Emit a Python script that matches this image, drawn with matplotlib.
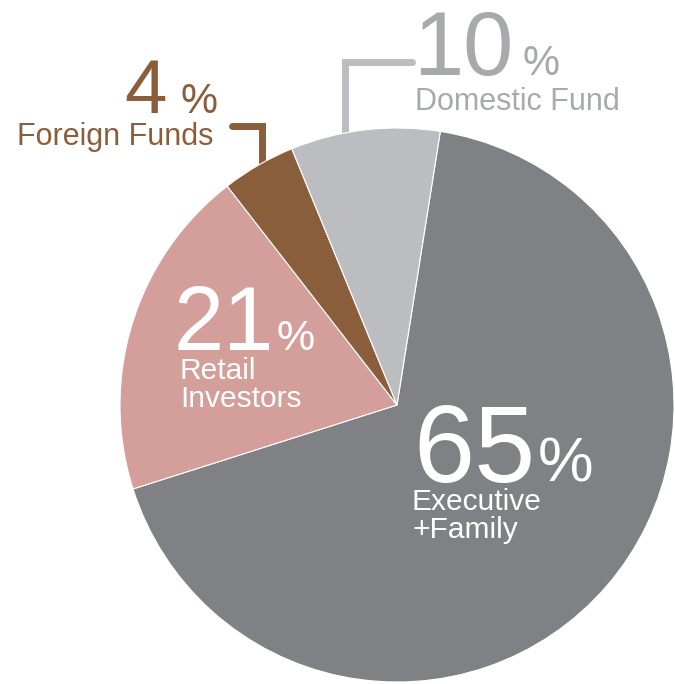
import matplotlib
matplotlib.use('Agg')
import matplotlib.pyplot as plt

# --- data ---
groups = ['Executive\n+Family', 'Retail\nInvestors', 'Foreign Funds', 'Domestic Fund']
share_labels = [65, 21, 4, 10]          # numbers printed on the chart
wedge_sizes = [67.6, 19.4, 4.3, 8.7]    # wedge spans as drawn in the picture
colors = ['#808184', '#d49f9b', '#8b5e3b', '#bcbdc0']

W, H = 675, 684
FONT = 'Liberation Sans'


def py(y):
    # pixel row (top-down) -> data y (bottom-up)
    return H - y


fig = plt.figure(figsize=(W / 100, H / 100), dpi=100)
ax = fig.add_axes([0, 0, 1, 1])

ax.pie(wedge_sizes, colors=colors, startangle=81, counterclock=False,
       center=(397, py(405)), radius=277, frame=False,
       wedgeprops=dict(edgecolor='white', linewidth=0.8, zorder=2))

# leader lines (behind the pie)
ax.plot([412, 345, 345], [py(62), py(62), py(160)], color='#bcbdc0', lw=5,
        solid_capstyle='round', solid_joinstyle='miter', zorder=1)
ax.plot([232, 262, 262], [py(126), py(126), py(190)], color='#8b5e3b', lw=5,
        solid_capstyle='round', solid_joinstyle='miter', zorder=1)


def label(x, y, num, big, pct_dx, pct_size, name, name_y, name_dx, color, size=21.5):
    # name_y = baseline of the last line of the name
    ax.text(x, py(y), str(num), fontsize=big, color=color, family=FONT,
            ha='left', va='baseline', zorder=5)
    ax.text(x + pct_dx, py(y), '%', fontsize=pct_size, color=color, family=FONT,
            ha='left', va='baseline', zorder=5)
    ax.text(x + name_dx, py(name_y), name, fontsize=size, color=color, family=FONT,
            ha='left', va='baseline', linespacing=1.0, zorder=5)


label(413, 482, share_labels[0], 79, 125, 45, groups[0], 538, -1, 'white')
label(173, 350, share_labels[1], 65, 104, 31, groups[1], 407, 7, 'white')
label(124, 113, share_labels[2], 55, 56, 30, groups[2], 145, -107, '#8b5e3b', 22)
label(413, 75, share_labels[3], 65, 109, 30, groups[3], 110, 2, '#a7a9ac', 22)

ax.set_xlim(0, W)
ax.set_ylim(0, H)
ax.set_aspect('equal')
ax.axis('off')

fig.savefig('out.png', dpi=100)
